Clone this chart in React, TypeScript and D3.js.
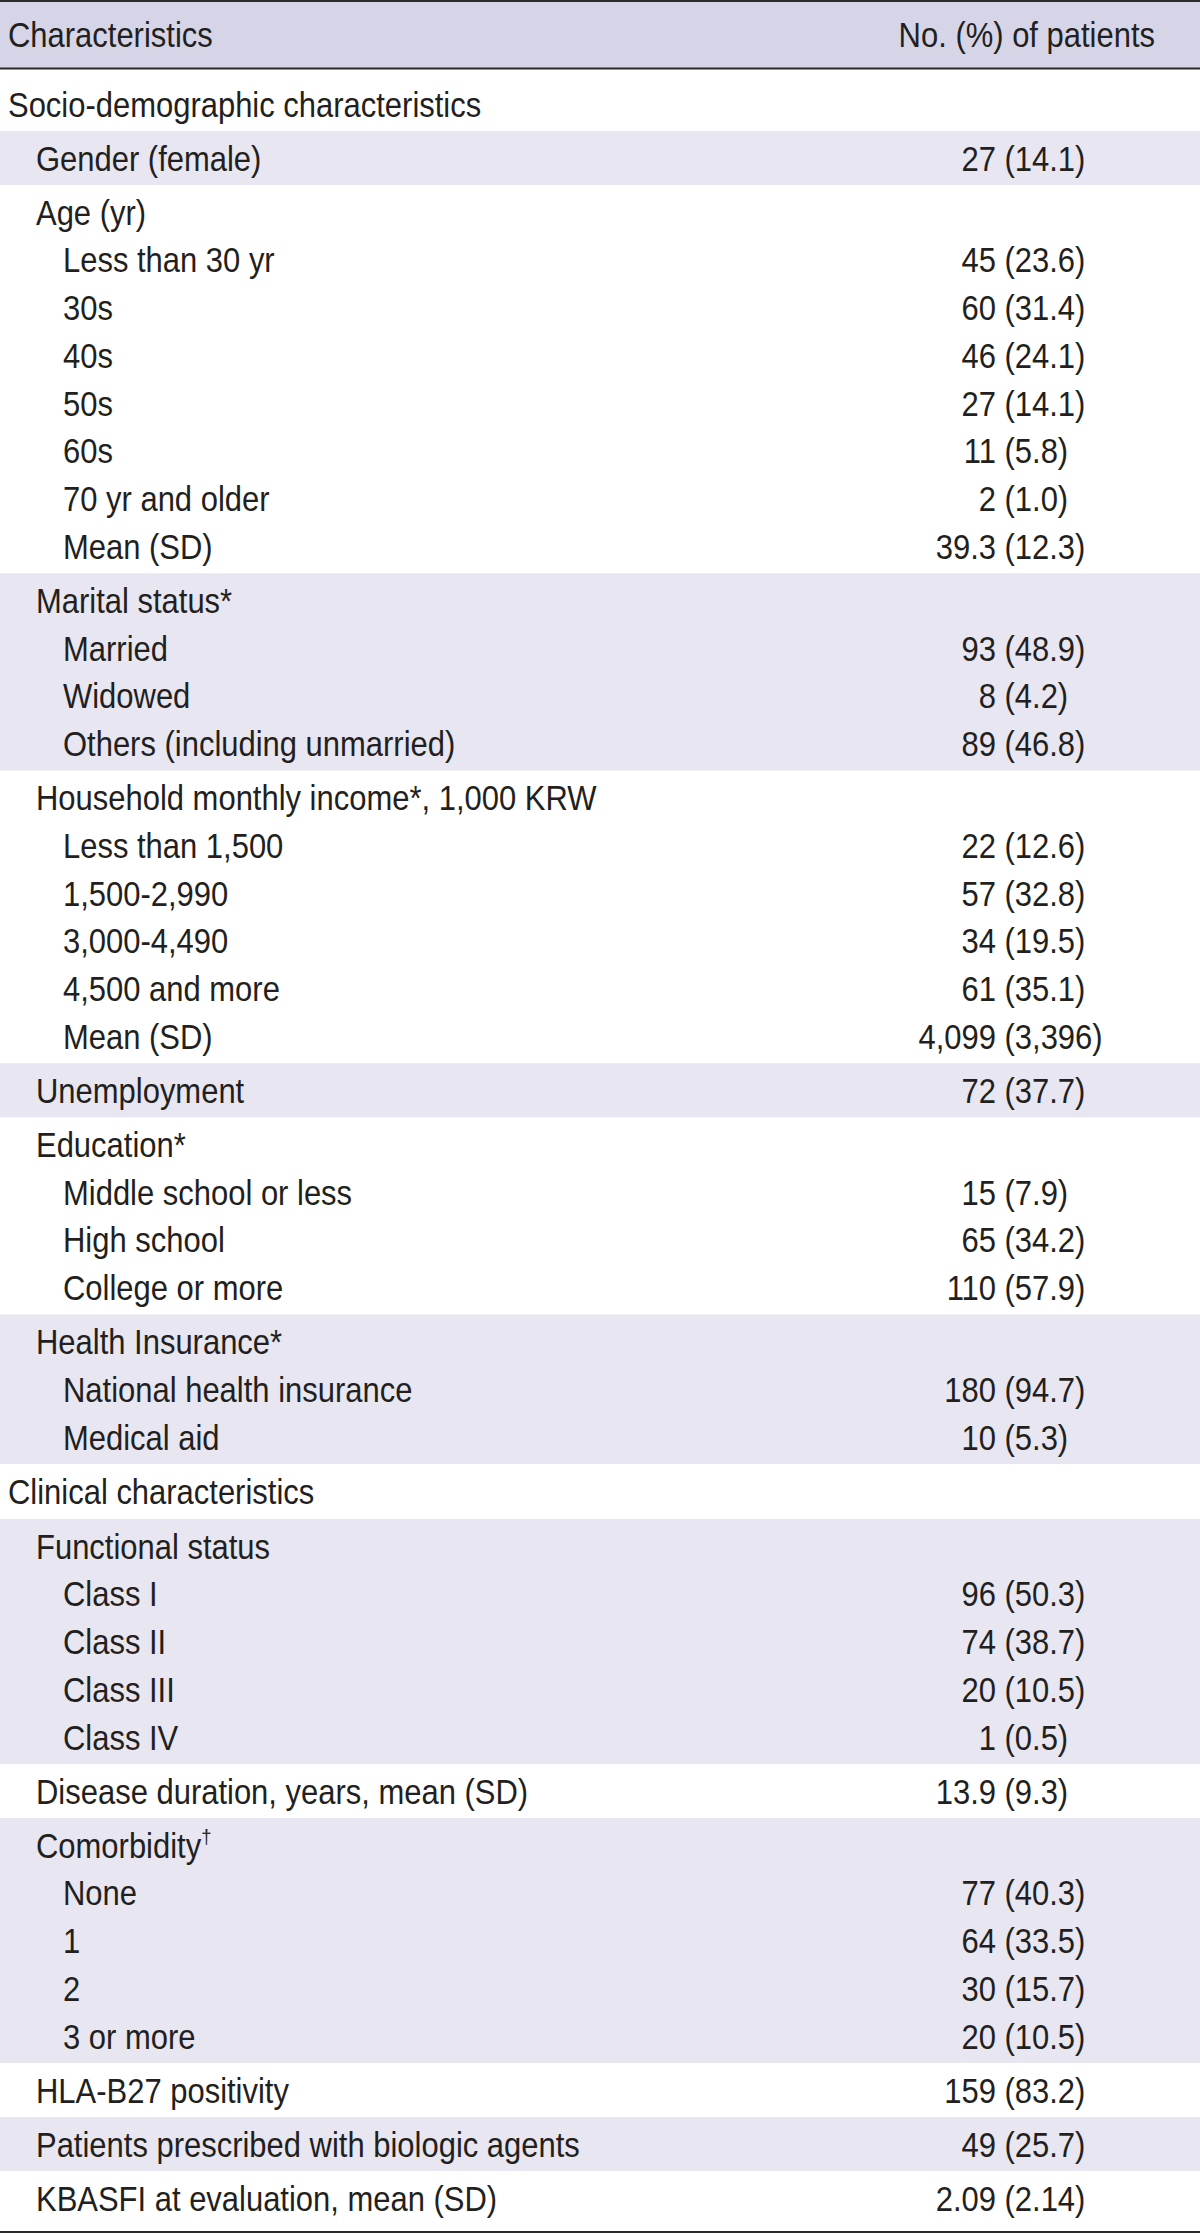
import React from "react";
import * as d3 from "d3";

// ---------- data ----------
const headerLabels = ["Characteristics", "No. (%) of patients"];
const sectionTitles = ["Socio-demographic characteristics", "Clinical characteristics"];

const socioGroupTitles = [
  "Gender (female)",
  "Age (yr)",
  "Marital status*",
  "Household monthly income*, 1,000 KRW",
  "Unemployment",
  "Education*",
  "Health Insurance*",
];
const socioGroupValues = ["27 (14.1)", "", "", "", "72 (37.7)", "", ""];

const ageCategories = ["Less than 30 yr", "30s", "40s", "50s", "60s", "70 yr and older", "Mean (SD)"];
const ageValues = ["45 (23.6)", "60 (31.4)", "46 (24.1)", "27 (14.1)", "11 (5.8)", "2 (1.0)", "39.3 (12.3)"];
const maritalCategories = ["Married", "Widowed", "Others (including unmarried)"];
const maritalValues = ["93 (48.9)", "8 (4.2)", "89 (46.8)"];
const incomeCategories = ["Less than 1,500", "1,500-2,990", "3,000-4,490", "4,500 and more", "Mean (SD)"];
const incomeValues = ["22 (12.6)", "57 (32.8)", "34 (19.5)", "61 (35.1)", "4,099 (3,396)"];
const educationCategories = ["Middle school or less", "High school", "College or more"];
const educationValues = ["15 (7.9)", "65 (34.2)", "110 (57.9)"];
const insuranceCategories = ["National health insurance", "Medical aid"];
const insuranceValues = ["180 (94.7)", "10 (5.3)"];

const clinicalGroupTitles = [
  "Functional status",
  "Disease duration, years, mean (SD)",
  "Comorbidity†",
  "HLA-B27 positivity",
  "Patients prescribed with biologic agents",
  "KBASFI at evaluation, mean (SD)",
];
const clinicalGroupValues = ["", "13.9 (9.3)", "", "159 (83.2)", "49 (25.7)", "2.09 (2.14)"];
const functionalCategories = ["Class I", "Class II", "Class III", "Class IV"];
const functionalValues = ["96 (50.3)", "74 (38.7)", "20 (10.5)", "1 (0.5)"];
const comorbidityCategories = ["None", "1", "2", "3 or more"];
const comorbidityValues = ["77 (40.3)", "64 (33.5)", "30 (15.7)", "20 (10.5)"];

// ---------- layout / style ----------
const W = 1200;
const H = 2233;
const FONT = "'Liberation Sans', Arial, Helvetica, sans-serif";
const FS = 35;
const SX = 0.885;
const TEXT = "#231f20";
const HEADER_BG = "#d6d5e8";
const BAND_BG = "#e7e6f1";
const LINE = "#2b2b2b";
const LINE_STEP = 47.75;
const GROUP_BASE = 54;
const X_SECTION = 8;
const X_GROUP = 36;
const X_ITEM = 63;
const X_NUM_END = 996;
const X_PAREN = 1004.5;

type Line = { label: string; value: string; x: number };
type Block = { kind: "section" | "group"; lines: Line[]; shaded: boolean; height: number; first: number };

function buildBlocks(): Block[] {
  const blocks: Block[] = [];
  const socioSubs = [null, [ageCategories, ageValues], [maritalCategories, maritalValues], [incomeCategories, incomeValues], null, [educationCategories, educationValues], [insuranceCategories, insuranceValues]];
  const clinSubs = [[functionalCategories, functionalValues], null, [comorbidityCategories, comorbidityValues], null, null, null];
  const sections: [string[], string[], any[]][] = [
    [socioGroupTitles, socioGroupValues, socioSubs],
    [clinicalGroupTitles, clinicalGroupValues, clinSubs],
  ];
  sections.forEach(([titles, values, subs], si) => {
    blocks.push({
      kind: "section",
      lines: [{ label: sectionTitles[si], value: "", x: X_SECTION }],
      shaded: false,
      height: si === 0 ? 62 : 55,
      first: si === 0 ? 48 : 40,
    });
    titles.forEach((t, gi) => {
      const lines: Line[] = [{ label: t, value: values[gi], x: X_GROUP }];
      const s = subs[gi];
      if (s) s[0].forEach((c: string, i: number) => lines.push({ label: c, value: s[1][i], x: X_ITEM }));
      blocks.push({
        kind: "group",
        lines,
        shaded: gi % 2 === 0,
        height: GROUP_BASE + LINE_STEP * (lines.length - 1),
        first: 39.5,
      });
    });
  });
  // last row has a little extra bottom padding
  blocks[blocks.length - 1].height += 6;
  return blocks;
}

function Label({ x, y, text, anchor = "start" }: { x: number; y: number; text: string; anchor?: string }) {
  const dag = text.endsWith("†");
  const main = dag ? text.slice(0, -1) : text;
  return (
    <text
      transform={`translate(${x},${y}) scale(${SX},1)`}
      textAnchor={anchor as any}
      fontFamily={FONT}
      fontSize={FS}
      fill={TEXT}
    >
      {main}
      {dag && (
        <tspan fontSize={21} dy={-14}>
          †
        </tspan>
      )}
    </text>
  );
}

function Value({ y, value }: { y: number; value: string }) {
  if (!value) return null;
  const idx = value.indexOf(" (");
  const num = idx >= 0 ? value.slice(0, idx) : value;
  const par = idx >= 0 ? value.slice(idx + 1) : "";
  return (
    <g>
      <Label x={X_NUM_END} y={y} text={num} anchor="end" />
      {par && <Label x={X_PAREN} y={y} text={par} />}
    </g>
  );
}

export default function App() {
  const blocks = buildBlocks();
  const headerBottom = 68.5;
  const bodyTop = 69;
  const offsets = d3.cumsum(blocks.map((b) => b.height));
  const tops = blocks.map((b, i) => bodyTop + (i === 0 ? 0 : offsets[i - 1]));
  const bottom = bodyTop + offsets[offsets.length - 1];
  const yLine = d3.scaleLinear().domain([0, 1]).range([0, LINE_STEP]);

  return (
    <svg
      width={W}
      height={H}
      viewBox={`0 0 ${W} ${H}`}
      style={{ position: "absolute", left: 0, top: 0, background: "#fff" }}
    >
      <rect x={0} y={0} width={W} height={H} fill="#fff" />
      {/* header */}
      <rect x={0} y={0} width={W} height={headerBottom} fill={HEADER_BG} />
      <Label x={X_SECTION} y={47} text={headerLabels[0]} />
      <Label x={1155} y={47} text={headerLabels[1]} anchor="end" />

      {/* body */}
      {blocks.map((b, i) => (
        <g key={i}>
          {b.shaded && <rect x={0} y={tops[i]} width={W} height={b.height} fill={BAND_BG} />}
          {b.lines.map((l, j) => {
            const y = tops[i] + b.first + yLine(j);
            return (
              <g key={j}>
                <Label x={l.x} y={y} text={l.label} />
                <Value y={y} value={l.value} />
              </g>
            );
          })}
        </g>
      ))}

      {/* rules */}
      <line x1={0} x2={W} y1={1} y2={1} stroke={LINE} strokeWidth={2} />
      <line x1={0} x2={W} y1={headerBottom} y2={headerBottom} stroke={LINE} strokeWidth={2} />
      <line x1={0} x2={W} y1={bottom + 1} y2={bottom + 1} stroke={LINE} strokeWidth={2} />
    </svg>
  );
}
